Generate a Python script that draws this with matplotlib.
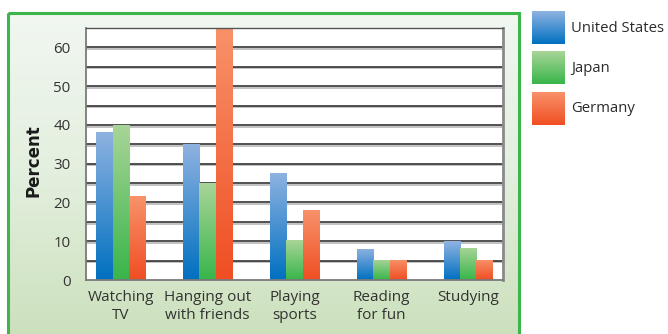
import numpy as np
import matplotlib
matplotlib.use("Agg")
import matplotlib.pyplot as plt
from matplotlib.colors import LinearSegmentedColormap
from matplotlib.patches import Rectangle
import matplotlib.patheffects as pe

categories = ["Watching\nTV", "Hanging out\nwith friends", "Playing\nsports", "Reading\nfor fun", "Studying"]
series_names = ["United States", "Japan", "Germany"]
us = [38.3, 35.1, 27.6, 8.1, 10.0]
japan = [40.0, 25.0, 10.2, 5.2, 8.3]
germany = [21.6, 65.0, 18.0, 5.2, 5.2]
yticks = [0, 10, 20, 30, 40, 50, 60]

series = [us, japan, germany]
grad_colors = [("#8fb3e1", "#0070c0"), ("#a9d598", "#38b54a"), ("#f8926a", "#f04e23")]

W, H = 668, 334
fig = plt.figure(figsize=(W / 100, H / 100), dpi=100)
fig.patch.set_facecolor("white")

def fx(px):
    return px / W

def fy(py):
    return 1 - py / H

text_font = ["Open Sans", "DejaVu Sans"]

# background panel
pan = fig.add_axes([0, 0, 1, 1], zorder=0)
pan.set_xlim(0, W)
pan.set_ylim(H, 0)
pan.axis("off")
bg = LinearSegmentedColormap.from_list("bg", ["#f1f7f1", "#e3efde", "#cbe0bb"])
grad = np.linspace(0, 1, 256).reshape(-1, 1)
pan.imshow(grad, cmap=bg, aspect="auto", extent=(8, 519, 340, 13), zorder=0)
pan.add_patch(Rectangle((8, 13), 511, 340, fill=False, edgecolor="#3cb54a", lw=2.2, zorder=1))

# legend swatches
sw_y = [12, 52, 93]
for name, (ctop, cbot), y0 in zip(series_names, grad_colors, sw_y):
    cm = LinearSegmentedColormap.from_list("c", [ctop, cbot])
    pan.imshow(grad, cmap=cm, aspect="auto", extent=(532, 565, y0 + 32.5, y0), zorder=2)
    pan.text(571, y0 + 16, name, fontsize=10.7, color="#2b2b2b", va="center", ha="left",
             family=text_font)

ax = fig.add_axes([fx(86), fy(280), fx(503 - 86), (280 - 28) / H], zorder=1)
ax.set_facecolor("white")
ax.set_xlim(-0.4, 4.4)
ax.set_ylim(0, 65)

for yv in np.arange(5, 65, 5):
    ax.axhline(yv, color="#333333", lw=1.2, zorder=1,
               path_effects=[pe.SimpleLineShadow(offset=(0, -1.2), shadow_color="#888888", alpha=0.6), pe.Normal()])
ax.axhline(65, color="#555555", lw=1.2, zorder=1)

x = np.arange(len(categories))
bw = 0.188
for i, (vals, (ctop, cbot)) in enumerate(zip(series, grad_colors)):
    cm = LinearSegmentedColormap.from_list("c%d" % i, [ctop, cbot])
    bars = ax.bar(x + (i - 1) * bw, vals, width=bw, color="none", edgecolor="none", zorder=2)
    for b in bars:
        x0, y0 = b.get_x(), b.get_y()
        w, h = b.get_width(), b.get_height()
        im = ax.imshow(grad, cmap=cm, aspect="auto", extent=(x0, x0 + w, y0, y0 + h),
                       origin="upper", zorder=2)
        im.set_clip_path(b)

ax.set_xlim(-0.4, 4.4)
ax.set_ylim(0, 65)

for s in ["left", "bottom"]:
    ax.spines[s].set_color("#7a7a7a")
    ax.spines[s].set_linewidth(1.3)
ax.spines["top"].set_color("#555555")
ax.spines["top"].set_linewidth(1.0)
ax.spines["right"].set_color("#8a8a8a")
ax.spines["right"].set_linewidth(2.0)
for s in ax.spines.values():
    s.set_zorder(3)

ax.set_yticks(yticks)
ax.set_yticklabels([str(v) for v in yticks], family=text_font, fontsize=10.8, color="#333333")
ax.tick_params(axis="y", length=0, pad=11)
ax.set_xticks(x)
ax.set_xticklabels(categories, family=text_font, fontsize=11, color="#333333", linespacing=1.3)
ax.tick_params(axis="x", length=0, pad=7)

fig.text(fx(33), fy(161), "Percent", rotation=90, ha="center", va="center",
         fontsize=12, fontweight="bold", color="#1a1a1a",
         family=["Liberation Sans Narrow", "DejaVu Sans"], zorder=5)

fig.savefig("out.png", dpi=100)
